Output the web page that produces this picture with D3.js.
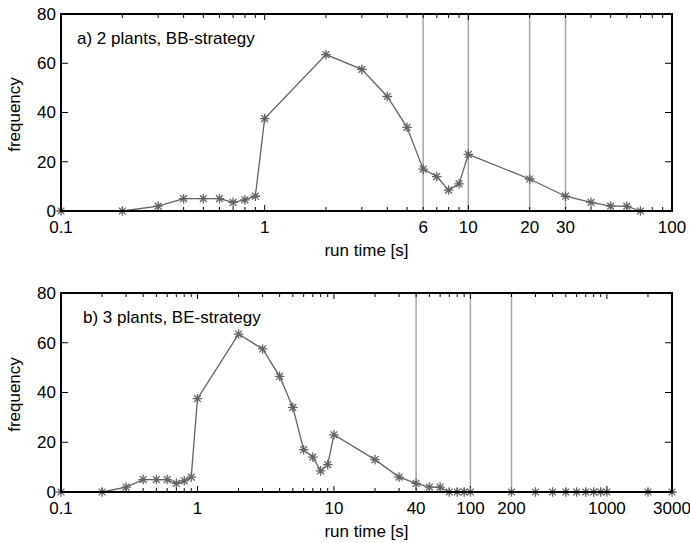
<!DOCTYPE html>
<html>
<head>
<meta charset="utf-8">
<script src="https://cdn.jsdelivr.net/npm/d3@7"></script>
<style>
  body { margin: 0; background: #fff; }
  svg text { font-family: "Liberation Sans", Arial, sans-serif; fill: #000; font-size: 17px; }
</style>
</head>
<body>
<svg id="chart" width="690" height="543"></svg>
<script>
// panel a) 2 plants, BB-strategy
const timesA = [0.1, 0.2, 0.3, 0.4, 0.5, 0.6, 0.7, 0.8, 0.9, 1, 2, 3, 4, 5, 6, 7, 8, 9, 10, 20, 30, 40, 50, 60, 70];
const freqA  = [0, 0, 2, 5, 5, 5, 3.5, 4.5, 6, 37.5, 63.5, 57.5, 46.5, 34, 17, 14, 8.5, 11, 23, 13, 6, 3.5, 2, 2, 0];
const gridA  = [6, 10, 20, 30];
const xTicksA = [0.1, 1, 6, 10, 20, 30, 100];

// panel b) 3 plants, BE-strategy
const timesB = [0.1, 0.2, 0.3, 0.4, 0.5, 0.6, 0.7, 0.8, 0.9, 1, 2, 3, 4, 5, 6, 7, 8, 9, 10, 20, 30, 40, 50, 60, 70,
                80, 90, 100, 200, 300, 400, 500, 600, 700, 800, 900, 1000, 2000, 3000];
const freqB  = [0, 0, 2, 5, 5, 5, 3.5, 4.5, 6, 37.5, 63.5, 57.5, 46.5, 34, 17, 14, 8.5, 11, 23, 13, 6, 3.5, 2, 2, 0,
                0, 0, 0, 0, 0, 0, 0, 0, 0, 0, 0, 0, 0, 0];
const gridB  = [40, 100, 200];
const xTicksB = [0.1, 1, 10, 40, 100, 200, 1000, 3000];

const yTicks = [0, 20, 40, 60, 80];

const svg = d3.select('#chart');

const LEFT  = 61;
const RIGHT = 672;
const LINE_COLOR = '#636363';
const GRID_COLOR = '#a6a6a6';

// 8-point asterisk like matlab '*'
function asterisk(r) {
    const d = r * Math.SQRT1_2;
    return `M${-r},0L${r},0M0,${-r}L0,${r}M${-d},${-d}L${d},${d}M${-d},${d}L${d},${-d}`;
}

function minorTicks(lo, hi) {
    let out = [];
    for (let e = Math.floor(Math.log10(lo)); e <= Math.ceil(Math.log10(hi)); e++) {
        for (let k = 1; k <= 9; k++) {
            const v = k * Math.pow(10, e);
            if (v >= lo * 0.999 && v <= hi * 1.001) out.push(v);
        }
    }
    return out;
}

function drawPanel(top, bottom, xMax, times, freq, grid, xTicks, label, labelX) {
    const x = d3.scaleLog().domain([0.1, xMax]).range([LEFT, RIGHT]);
    const y = d3.scaleLinear().domain([0, 80]).range([bottom, top]);
    const g = svg.append('g');

    // vertical marker lines
    g.selectAll('line.grid')
        .data(grid)
        .enter().append('line')
        .attr('x1', d => x(d)).attr('x2', d => x(d))
        .attr('y1', top).attr('y2', bottom)
        .attr('stroke', GRID_COLOR)
        .attr('stroke-width', 1.5);

    // minor ticks top/bottom, inward
    const minors = minorTicks(0.1, xMax);
    minors.forEach(v => {
        const major = Math.abs(Math.log10(v) - Math.round(Math.log10(v))) < 1e-9;
        const len = major ? 6 : 4;
        g.append('line')
            .attr('x1', x(v)).attr('x2', x(v))
            .attr('y1', bottom).attr('y2', bottom - len)
            .attr('stroke', '#000');
        g.append('line')
            .attr('x1', x(v)).attr('x2', x(v))
            .attr('y1', top).attr('y2', top + len)
            .attr('stroke', '#000');
    });

    // y ticks left/right, inward
    yTicks.forEach(v => {
        g.append('line')
            .attr('x1', LEFT).attr('x2', LEFT + 7)
            .attr('y1', y(v)).attr('y2', y(v))
            .attr('stroke', '#000');
        g.append('line')
            .attr('x1', RIGHT).attr('x2', RIGHT - 7)
            .attr('y1', y(v)).attr('y2', y(v))
            .attr('stroke', '#000');
    });

    // data line and markers
    const line = d3.line().x((d, i) => x(times[i])).y(d => y(d));
    g.append('path')
        .datum(freq)
        .attr('d', line)
        .attr('fill', 'none')
        .attr('stroke', LINE_COLOR)
        .attr('stroke-width', 1.3);

    g.selectAll('path.mark')
        .data(freq)
        .enter().append('path')
        .attr('class', 'mark')
        .attr('transform', (d, i) => `translate(${x(times[i])},${y(d)})`)
        .attr('d', asterisk(4.8))
        .attr('stroke', LINE_COLOR)
        .attr('stroke-width', 1.3);

    // box
    g.append('rect')
        .attr('x', LEFT).attr('y', top)
        .attr('width', RIGHT - LEFT).attr('height', bottom - top)
        .attr('fill', 'none')
        .attr('stroke', '#000')
        .attr('stroke-width', 2);

    // tick labels
    g.selectAll('text.ylab')
        .data(yTicks)
        .enter().append('text')
        .attr('x', LEFT - 5)
        .attr('y', d => y(d))
        .attr('dy', '0.35em')
        .attr('text-anchor', 'end')
        .text(d => d);

    g.selectAll('text.xlab')
        .data(xTicks)
        .enter().append('text')
        .attr('x', d => x(d))
        .attr('y', bottom + 22)
        .attr('text-anchor', 'middle')
        .text(d => d);

    // axis titles
    g.append('text')
        .attr('x', (LEFT + RIGHT) / 2)
        .attr('y', bottom + 45)
        .attr('text-anchor', 'middle')
        .text('run time [s]');

    g.append('text')
        .attr('transform', `translate(20,${(top + bottom) / 2 + 2}) rotate(-90)`)
        .attr('text-anchor', 'middle')
        .text('frequency');

    g.append('text')
        .attr('x', labelX)
        .attr('y', top + 30)
        .text(label);
}

drawPanel(14, 211, 100, timesA, freqA, gridA, xTicksA, 'a) 2 plants, BB-strategy', 77);
drawPanel(293, 492, 3000, timesB, freqB, gridB, xTicksB, 'b) 3 plants, BE-strategy', 83);
</script>
</body>
</html>
